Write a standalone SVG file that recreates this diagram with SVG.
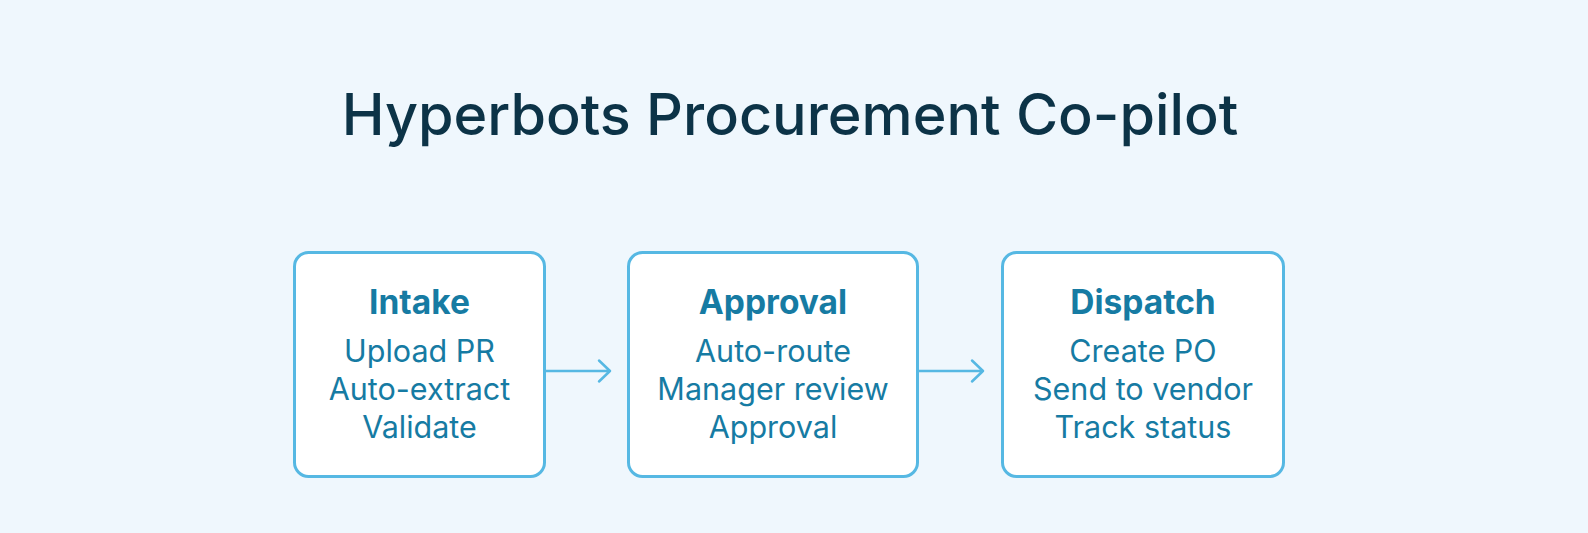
<svg xmlns="http://www.w3.org/2000/svg" width="1588" height="533" viewBox="0 0 1588 533">
<style>
.node rect{fill:#ffffff;stroke:#56b8e3;stroke-width:3}
.h{font-family:Inter,"Liberation Sans",sans-serif;font-weight:700;font-size:33.5px;fill:#167ba3;text-anchor:middle}
.b{font-family:Inter,"Liberation Sans",sans-serif;font-weight:400;font-size:30.5px;fill:#167ba3;text-anchor:middle}
.title{font-family:Inter,"Liberation Sans",sans-serif;font-weight:500;font-size:57.5px;fill:#0c3347;text-anchor:middle}
.conn path{fill:none;stroke:#56b8e3;stroke-width:2.5;stroke-linecap:round;stroke-linejoin:round}
</style>
<rect x="0" y="0" width="1588" height="533" fill="#eff7fd"/>
<text class="title" x="790" y="135">Hyperbots Procurement Co-pilot</text>
<g id="intake" class="node">
<rect x="294.5" y="252.5" width="250" height="224" rx="14"/>
<text class="h" x="419.5" y="314">Intake</text>
<text class="b" x="419.5" y="362">Upload PR</text>
<text class="b" x="419.5" y="400">Auto-extract</text>
<text class="b" x="419.5" y="438">Validate</text>
</g>
<g id="approval" class="node">
<rect x="628.5" y="252.5" width="289" height="224" rx="14"/>
<text class="h" x="773" y="314">Approval</text>
<text class="b" x="773" y="362">Auto-route</text>
<text class="b" x="773" y="400">Manager review</text>
<text class="b" x="773" y="438">Approval</text>
</g>
<g id="dispatch" class="node">
<rect x="1002.5" y="252.5" width="281" height="224" rx="14"/>
<text class="h" x="1143" y="314">Dispatch</text>
<text class="b" x="1143" y="362">Create PO</text>
<text class="b" x="1143" y="400">Send to vendor</text>
<text class="b" x="1143" y="438">Track status</text>
</g>
<g id="connectors" class="conn">
<path d="M546 371 H610 M599 360.5 L610 371 L599 381.5"/>
<path d="M919 371 H983 M972 360.5 L983 371 L972 381.5"/>
</g>
</svg>
